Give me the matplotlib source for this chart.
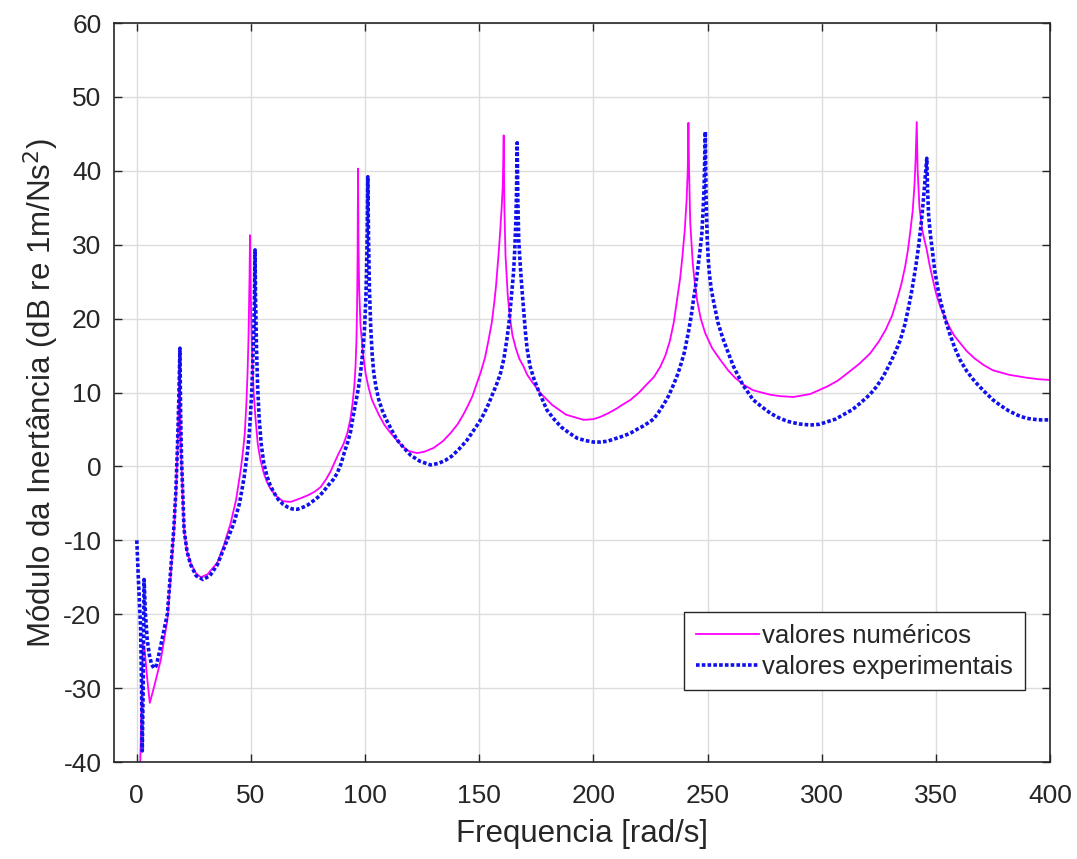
import numpy as np
import matplotlib
matplotlib.use('Agg')
import matplotlib.pyplot as plt

# valores numericos
freq_num = [1.5, 2.2, 2.8, 3.5, 4.5, 5.7, 7.6, 10.5, 13.4, 15.0, 16.2, 17.1, 17.8, 18.4, 18.8,
            19.1, 19.5, 20.7, 22, 23.6, 26, 28, 31, 35.3, 38, 41.1, 43.5, 45.5, 46.5, 47.3, 48,
            48.5, 48.9, 49.2, 49.4, 49.6, 49.8, 50.1, 50.6, 51.2, 52, 53, 54.2, 55.6, 57, 58.5,
            61, 64, 67.4, 71, 75, 78, 80.5, 83, 85, 87, 88.5, 90.5, 92.2, 93.5, 94.5, 95.3,
            95.8, 96.2, 96.5, 96.7, 96.9, 97.1, 97.4, 98, 99, 100.2, 101.5, 103, 106, 108.5,
            111.2, 116, 119, 122.8, 126, 130, 134, 137.4, 140.5, 143, 145, 147, 149, 150.5,
            152.5, 154, 155.5, 156.5, 157.3, 157.8, 158.6, 159.2, 159.8, 160.3, 160.7, 161.0,
            161.5, 162.5, 163.5, 164.5, 166, 167.5, 169.4, 171, 173, 176.8, 182, 188, 195.7,
            200, 203, 206.5, 210, 213, 216.2, 220, 223, 226.5, 229.3, 231.5, 233.5, 235.2,
            236.6, 238, 239, 240, 240.8, 241.3, 241.6, 241.9, 242.4, 243.5, 244.4, 245.4, 247,
            249, 252, 255.6, 259, 262, 266, 270, 277.5, 282, 287.7, 295, 302.3, 307, 312,
            316.5, 321.2, 325, 328, 330.8, 332.9, 334.8, 336.5, 337.7, 338.7, 339.8, 340.6,
            341.1, 341.6, 342.0, 342.8, 344, 345, 346, 347.2, 348.5, 350, 351.9, 354, 356, 358,
            360.6, 363.5, 367, 371, 375, 382, 389.8, 395, 400]
mod_num = [-40.5, -30, -24, -25, -28.5, -32, -29.8, -26.2, -20.8, -14, -9, -4, 2, 9, 16,
           6, 1, -8.6, -11.5, -13.1, -14.5, -15, -14.6, -13, -10.8, -7.7, -4.5, -0.5, 2, 4.5, 8.5,
           12.5, 17, 22, 26, 31.3, 26, 20, 14.5, 10, 6.5, 3, 0.8, -0.9, -2.1, -3,
           -4, -4.7, -4.8, -4.4, -3.9, -3.4, -2.8, -1.7, -0.6, 0.8, 1.8, 3.0, 4.5, 6.3, 8.5, 11,
           13.5, 17, 22, 28, 40.3, 30, 24, 19, 15.5, 12.6, 10.7, 9, 7, 5.6,
           4.5, 2.8, 2.1, 1.8, 2.0, 2.5, 3.4, 4.5, 5.7, 7, 8.2, 9.5, 11.3, 12.6,
           14.7, 17, 19.5, 22, 24.3, 26.2, 29.3, 32, 35, 38, 44.8, 35,
           28.5, 23, 20, 17.8, 16, 14.6, 13.5, 12.4, 11.5, 9.9, 8.3, 7.0, 6.3,
           6.4, 6.7, 7.2, 7.8, 8.4, 9.0, 10, 11, 12.1, 13.5, 15, 17, 19.5,
           22.5, 25.5, 28.5, 32, 36, 40, 46.5, 40, 33, 27.5, 24.8, 22.5, 20,
           18, 16, 14.4, 13, 12, 11, 10.3, 9.7, 9.5, 9.4, 9.8, 10.8, 11.6, 12.8,
           13.9, 15.3, 16.9, 18.5, 20.4, 22.5, 24.6, 27, 29.2, 31.6, 34.5, 38,
           41.5, 46.6, 40, 35, 32, 30.6, 29.3, 27.3, 25.5, 23.5, 21.6, 20.1, 18.8, 17.7,
           16.7, 15.6, 14.6, 13.7, 13.0, 12.4, 12.0, 11.8, 11.7]

# valores experimentais
freq_exp = [0, 0.6, 1.2, 1.7, 2.1, 2.4, 2.8, 3.2, 3.8, 4.6, 5.5, 6.5, 7.5, 8.5, 10, 12, 13.4,
            15, 16.2, 17.1, 17.8, 18.4, 18.9, 19.2, 19.6, 20.7, 22, 23.6, 26, 29, 32, 35.3, 38,
            42.5, 45, 47, 48.5, 49.3, 49.8, 50.4, 50.8, 51.2, 51.5, 51.8, 52.0, 52.4, 52.9,
            53.6, 54.5, 55.6, 57, 58.5, 60, 62, 64, 66, 68, 70.3, 73, 75, 78, 80, 82, 84, 86,
            87.8, 89.5, 91, 92.3, 93.5, 95, 96, 97, 97.8, 98.5, 99.2, 99.8, 100.3, 100.6,
            100.9, 101.2, 101.5, 101.9, 102.5, 103.1, 103.8, 104.8, 106, 107.5, 109, 111.5,
            114, 117, 120, 124, 128.7, 132, 135, 138, 141, 144.5, 147.6, 150, 152, 154, 156,
            157.7, 159.3, 160.8, 162, 163, 163.8, 164.4, 165, 165.5, 166, 166.3, 166.6, 166.9,
            167.3, 168, 168.7, 169.5, 170.2, 171, 172.3, 174, 176, 179.7, 183, 186, 189.5, 193,
            196.5, 200, 203, 206, 210, 213, 216.2, 219, 222, 224.5, 226.3, 228.5, 231, 233,
            235, 236.7, 238, 239.8, 241.5, 242.8, 243.8, 245, 246, 246.8, 247.5, 248, 248.5,
            249, 249.3, 249.8, 250.3, 250.8, 251.6, 252.5, 254.5, 256.5, 259, 261.4, 263.5,
            265.5, 268, 270, 274, 277.5, 281, 285, 290, 295, 299, 302, 306, 309.5, 313.5, 317,
            321, 324, 327, 330, 332.4, 334.4, 336.4, 338, 339.1, 340, 341.3, 342.5, 343.6,
            344.5, 345.3, 346, 346.4, 346.8, 347.5, 348.5, 349.5, 350.7, 351.9, 354, 356,
            358.3, 360.6, 363.5, 367, 371, 375, 378.5, 382, 386, 389.8, 395, 400]
mod_exp = [-10, -14.5, -18.5, -22, -30, -38.5, -30, -15.3, -20, -23.5, -25.5, -26.8, -27.3, -27, -25, -22, -20,
           -13.5, -8.5, -3.5, 2.5, 9, 16, 7, 1, -8.5, -11.5, -13.3, -14.8, -15.3, -14.8, -13.3, -11.2,
           -7.7, -5, -1.5, 2, 4.5, 7, 10.5, 14, 18, 22, 29.3, 23, 16.5, 11,
           6.5, 3, 0.5, -1.3, -2.6, -3.5, -4.5, -5.1, -5.5, -5.75, -5.8, -5.5, -5.2, -4.5, -4, -3.3, -2.5, -1.8,
           -0.9, 0.4, 2, 3.2, 4.5, 7.2, 8.8, 10.5, 12.2, 14, 16.3, 19, 22.5, 26,
           31, 39.2, 31, 24, 18.5, 15.2, 12.6, 10.7, 9, 7.6, 6.5, 5,
           3.6, 2.5, 1.5, 0.7, 0.2, 0.4, 0.8, 1.4, 2.3, 3.5, 4.9, 6.0, 7.1, 8.4, 9.9,
           11.2, 12.6, 14.6, 17, 19.3, 22, 24, 26.2, 29, 33, 37, 43.8, 36,
           30.5, 27, 24, 21, 18.2, 15.8, 13.5, 11.8, 10.2, 7.6, 6.3, 5.3, 4.5, 3.8,
           3.5, 3.3, 3.3, 3.4, 3.8, 4.1, 4.5, 5.0, 5.5, 6.0, 6.4, 7.3, 8.5, 9.6,
           11, 12.3, 13.5, 15.4, 18, 20.3, 22.5, 25, 27.5, 29.5, 31.6, 34.5, 38,
           45.3, 37, 31, 28, 26, 24, 22.5, 19.5, 17.5, 15.4, 13.5, 12.2,
           11, 9.9, 9, 8, 7.2, 6.6, 6.1, 5.75, 5.6, 5.7, 6.0, 6.4, 7.0, 7.7, 8.6,
           9.7, 10.8, 12.2, 14, 15.6, 17.1, 19.2, 21.5, 23.2, 24.8, 27.3, 30, 33,
           36, 39, 41.7, 37, 34, 31.6, 29, 26.5, 24.3, 22.5, 20, 18,
           16, 14.4, 12.9, 11.5, 10.2, 9.0, 8.2, 7.5, 6.9, 6.5, 6.3, 6.3]

plt.rcParams['font.family'] = ['Liberation Sans', 'DejaVu Sans']
plt.rcParams['axes.unicode_minus'] = False
txt = '#262626'

fig = plt.figure(figsize=(10.77, 8.59), dpi=100)
ax = fig.add_axes([0.1058, 0.1129, 0.8692, 0.8603])

ax.plot(freq_num, mod_num, color='#ff00ff', linewidth=1.3, label='valores numéricos')
ax.plot(freq_exp, mod_exp, color='#1010ee', linewidth=2.6, linestyle=(0, (1, 0.6)),
        label='valores experimentais')

ax.set_xlim(-10, 400)
ax.set_ylim(-40, 60)
ax.set_xticks(np.arange(0, 401, 50))
ax.set_yticks(np.arange(-40, 61, 10))
ax.grid(True, color='#dcdcdc', linewidth=1)
ax.set_axisbelow(True)
ax.tick_params(direction='in', top=True, right=True, length=6, width=1,
               labelsize=19, colors=txt)
ax.tick_params(axis='x', pad=16)
ax.tick_params(axis='y', pad=9)
for s in ax.spines.values():
    s.set_color(txt)
    s.set_linewidth(1.2)

ax.set_xlabel('Frequencia [rad/s]', fontsize=22.5, color=txt, labelpad=8)
ax.set_ylabel('Módulo da Inertância (dB re 1m/Ns$^2$)', fontsize=22.5, color=txt, labelpad=1.5)

leg = ax.legend(loc='lower right', bbox_to_anchor=(0.973, 0.097), fontsize=18.5,
                frameon=True, fancybox=False, edgecolor=txt, framealpha=1,
                handlelength=2.45, handletextpad=0.15, borderpad=0.45, labelspacing=0.28,
                borderaxespad=0)
leg.get_frame().set_linewidth(1.0)
for t in leg.get_texts():
    t.set_color(txt)

fig.savefig('out.png', dpi=100)
